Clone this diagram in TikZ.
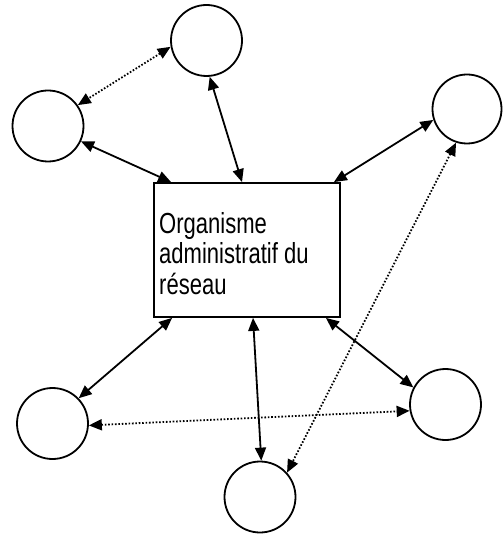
\documentclass[tikz,border=0pt]{standalone}
\usepackage{fontspec}
\newfontfamily\orgfont{Liberation Sans}[FakeStretch=0.76]
\usetikzlibrary{arrows.meta}
\begin{document}
\begin{tikzpicture}[x=1pt,y=-1pt,
  member/.style={draw, circle, line width=1.8pt, inner sep=0pt, minimum size=71pt},
  office/.style={draw, rectangle, line width=1.8pt, inner sep=0pt,
    minimum width=186pt, minimum height=134pt},
  link/.style={line width=1.8pt, {Triangle[length=13pt,width=11pt]}-{Triangle[length=13pt,width=11pt]}},
  peer/.style={line width=1.8pt, dash pattern=on 1.6pt off 1.8pt,
    {Triangle[length=13pt,width=11pt]}-{Triangle[length=13pt,width=11pt]}}]
\useasboundingbox (0,0) rectangle (502,534);

% central body
\node[office] (org) at (247,250) {};
\node[anchor=north west, align=left, inner sep=0pt,
  font=\orgfont\fontsize{29}{30.5}\selectfont] (orgtext) at (159,212)
  {Organisme\\administratif du\\réseau};

% member nodes
\node[member] (top)   at (206.5,40.5) {};
\node[member] (left)  at (48,126)     {};
\node[member, minimum size=69pt] (right) at (467,109) {};
\node[member] (lleft) at (52.5,423.5) {};
\node[member] (lright) at (445.5,404.5) {};
\node[member] (bottom) at (260,497)   {};

% links with the central body
\draw[link] (top.-85)    -- ([xshift=-5pt]org.north);
\draw[link] (left.-25)   -- ([xshift=18pt]org.north west);
\draw[link] (right.198)  -- ([xshift=-7pt]org.north east);
\draw[link] ([xshift=19pt]org.south west) -- (lleft.44);
\draw[link] ([xshift=6pt]org.south)       -- (bottom.88);
\draw[link] ([xshift=-15pt]org.south east) -- (lright.152);

% direct links between members
\draw[peer] (top.190)   -- (left.35);
\draw[peer] (lleft.-3)  -- (lright.190);
\draw[peer] (right.252) -- (bottom.42);
\end{tikzpicture}
\end{document}
